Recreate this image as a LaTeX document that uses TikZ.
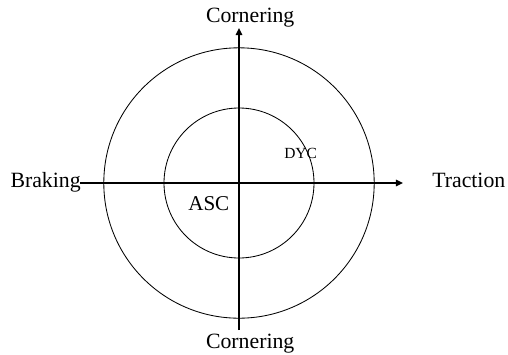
\documentclass[tikz,border=0pt]{standalone}
\usepackage{fontspec}
\setmainfont{Liberation Serif}
\usepackage{tikz}
\usetikzlibrary{arrows.meta, positioning}

\begin{document}
\begin{tikzpicture}[>={Triangle[length=5pt, width=4.5pt]},
  ring/.style={circle, draw=black, line width=0.6pt, inner sep=0pt},
  axis/.style={->, line width=1.1pt},
  lbl/.style={inner sep=0pt, font=\fontsize{15.5}{18}\selectfont},
  zone/.style={inner sep=0pt, font=\fontsize{15}{18}\selectfont},
  zonesmall/.style={inner sep=0pt, font=\fontsize{11}{13}\selectfont}
]
\useasboundingbox (-5.975,-4.275) rectangle (6.725,4.575);

%% ---- Centre and axis end points ----
\coordinate (origin) at (0,0);
\coordinate (left)   at (-3.975, 0);
\coordinate (right)  at ( 4.100, 0);
\coordinate (bottom) at ( 0, -3.675);
\coordinate (top)    at ( 0,  3.875);

%% ---- Circles ----
\node[ring, minimum size=6.76cm] (outer) at (origin) {};
\node[ring, minimum size=3.75cm] (inner) at (origin) {};

%% ---- Axes ----
\draw[axis] (left)   -- (right);
\draw[axis] (bottom) -- (top);

%% ---- Axis labels ----
\node[lbl, anchor=base]      (corntop) at ( 0.28,  4.025) {Cornering};
\node[lbl, anchor=base]      (cornbot) at ( 0.28, -4.125) {Cornering};
\node[lbl, anchor=base east] (braking) at (-3.95, -0.10)  {Braking};
\node[lbl, anchor=base west] (traction) at (4.825, -0.10) {Traction};

%% ---- Region labels ----
\node[zone, anchor=base west]      (asc) at (-1.275, -0.675) {ASC};
\node[zonesmall, anchor=base west] (dyc) at ( 1.125,  0.625) {DYC};

\end{tikzpicture}
\end{document}
